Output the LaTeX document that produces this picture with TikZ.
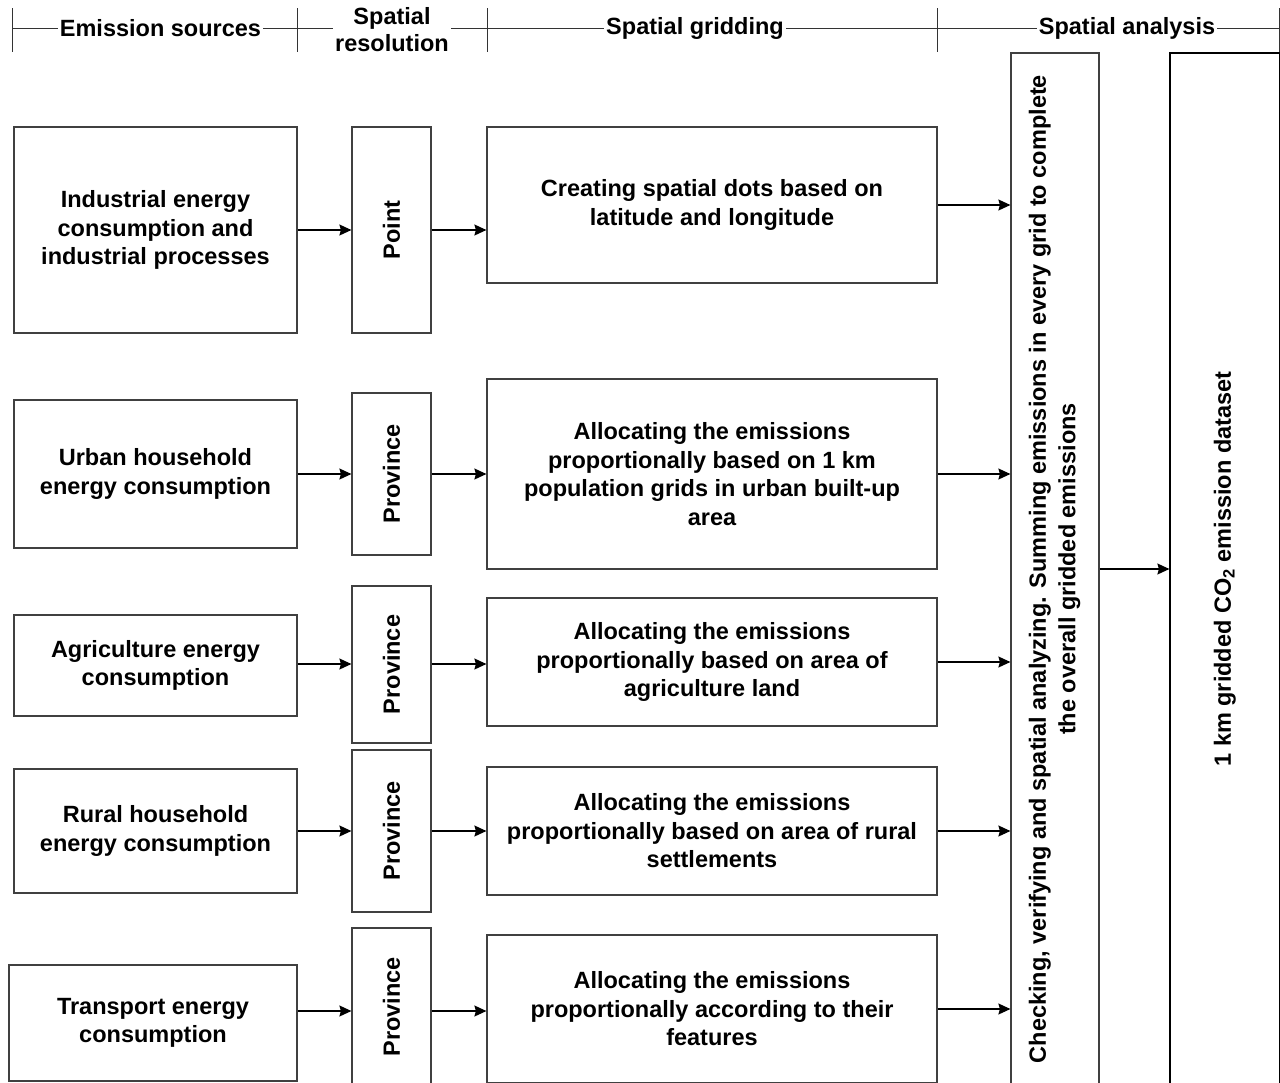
\documentclass[tikz,border=0pt]{standalone}
\usepackage{fontspec}
\setmainfont{Liberation Sans}
\usetikzlibrary{arrows.meta}
\begin{document}
\begin{tikzpicture}[x=1pt,y=-1pt,
  txt/.style={font=\bfseries\fontsize{23.5}{28.5}\selectfont},
  box/.style={txt, draw=black!75, line width=1.2pt, fill=white, inner sep=0pt, align=center},
  box2/.style={box, draw=black},
  arr/.style={draw=black, line width=1.2pt, -{Stealth[length=12pt,width=11pt,inset=1.5pt]}},
  hdr/.style={txt, fill=white, inner sep=2pt, align=center},
  hline/.style={draw=black!80, line width=1pt}]
\useasboundingbox (0,0) rectangle (1280,1082);
\clip (0,0) rectangle (1280,1082);
% header
\draw[hline] (12,28) -- (1280,28);
\foreach \xx in {12,297,487,937,1279}{\draw[hline] (\xx,8) -- (\xx,52);}
\node[hdr] (h1) at (160.5,28) {Emission sources};
\node[hdr] (h2) at (392,29.5) {Spatial\\[-1.5pt]resolution};
\node[hdr] (h3) at (695,28) {Spatial gridding};
\node[hdr] (h4) at (1127,28) {Spatial analysis};
% column 1
\node[box, minimum width=283, minimum height=206] (a1) at (155.5,230) {Industrial energy\\consumption and\\industrial processes};
\node[box, minimum width=283, minimum height=148] (a2) at (155.5,474) {Urban household\\energy consumption};
\node[box, minimum width=283, minimum height=101] (a3) at (155.5,665.5) {Agriculture energy\\consumption};
\node[box, minimum width=283, minimum height=124] (a4) at (155.5,831) {Rural household\\energy consumption};
\node[box, minimum width=288, minimum height=116] (a5) at (153,1023) {Transport energy\\consumption};
% column 2
\node[box, minimum width=79, minimum height=206] (p1) at (391.5,230) {\rotatebox{90}{Point}};
\node[box, minimum width=79, minimum height=162] (p2) at (391.5,474) {\rotatebox{90}{Province}};
\node[box, minimum width=79, minimum height=157] (p3) at (391.5,664.5) {\rotatebox{90}{Province}};
\node[box, minimum width=79, minimum height=162] (p4) at (391.5,831) {\rotatebox{90}{Province}};
\node[box, minimum width=79, minimum height=158] (p5) at (391.5,1007) {\rotatebox{90}{Province}};
% column 3
\node[box, minimum width=450, minimum height=156] (g1) at (712,205) {Creating spatial dots based on\\latitude and longitude};
\node[box, minimum width=450, minimum height=190] (g2) at (712,474) {Allocating the emissions\\proportionally based on 1 km\\population grids in urban built-up\\area};
\node[box, minimum width=450, minimum height=128] (g3) at (712,662) {Allocating the emissions\\proportionally based on area of\\agriculture land};
\node[box, minimum width=450, minimum height=128] (g4) at (712,831) {Allocating the emissions\\proportionally based on area of rural\\settlements};
\node[box, minimum width=450, minimum height=148] (g5) at (712,1009) {Allocating the emissions\\proportionally according to their\\features};
% column 4 and 5
\node[box, minimum width=88, minimum height=1032] (c) at (1055,569) {\rotatebox{90}{\begin{tabular}{@{}c@{}}Checking, verifying and spatial analyzing. Summing emissions in every grid to complete\\[1pt]the overall gridded emissions\end{tabular}}};
\node[box2, minimum width=109.5, minimum height=1032] (d) at (1224.75,569) {\rotatebox{90}{1 km gridded CO\textsubscript{2} emission dataset}};
% row levels
\coordinate (r1) at (0,230);
\coordinate (r2) at (0,474);
\coordinate (r3) at (0,664);
\coordinate (r4) at (0,831);
\coordinate (r5) at (0,1011);
\foreach \i in {1,...,5}{
  \draw[arr] (a\i.east |- r\i) -- (p\i.west |- r\i);
  \draw[arr] (p\i.east |- r\i) -- (g\i.west |- r\i);
  \draw[arr] (g\i.east) -- (g\i.east -| c.west);
}
\draw[arr] (c.east) -- (d.west);
\end{tikzpicture}
\end{document}
